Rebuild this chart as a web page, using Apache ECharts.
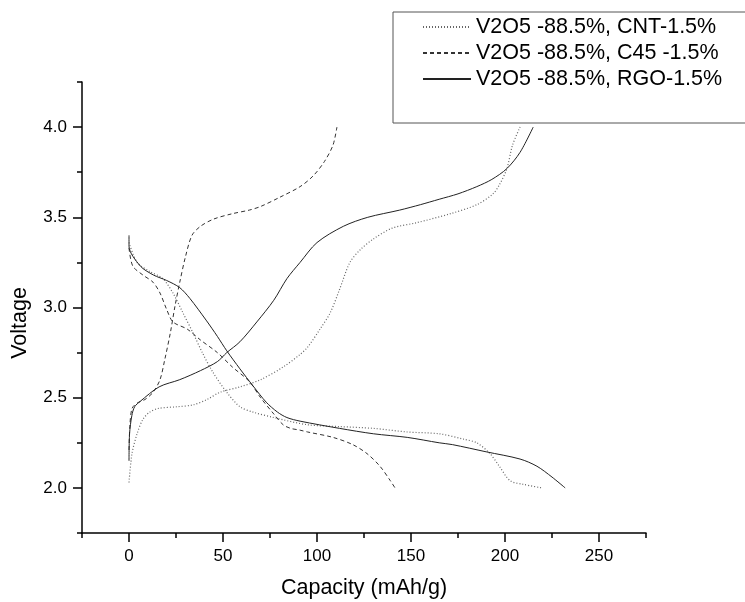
<!DOCTYPE html>
<html>
<head>
<meta charset="utf-8">
<script src="https://cdn.jsdelivr.net/npm/echarts@6/dist/echarts.min.js"></script>
<style>html,body{margin:0;padding:0;background:#fff}#c{width:745px;height:602px}</style>
</head>
<body>
<div id="c"></div>
<script>
var seriesNames = ['V2O5 -88.5%, CNT-1.5%', 'V2O5 -88.5%, C45 -1.5%', 'V2O5 -88.5%, RGO-1.5%'];
var xTickLabels = [0, 50, 100, 150, 200, 250];
var yTickLabels = [2.0, 2.5, 3.0, 3.5, 4.0];

var cntCharge = [[0,2.03],[1.6,2.19],[4.3,2.30],[7.4,2.38],[11,2.42],[15.4,2.44],[25.5,2.45],[34,2.46],[41.5,2.49],[48.4,2.53],[59,2.56],[70,2.6],[82,2.67],[91,2.74],[95,2.78],[101.6,2.88],[107,2.97],[112,3.10],[117.5,3.25],[123,3.32],[130,3.38],[140,3.44],[153,3.47],[171,3.52],[185,3.57],[193.6,3.63],[197,3.68],[201,3.77],[204,3.90],[208,4.0]];
var cntDischarge = [[0,3.36],[4.3,3.25],[11,3.2],[18,3.16],[23.4,3.08],[28.7,2.97],[34,2.86],[39,2.75],[44.7,2.64],[52,2.53],[59,2.45],[66,2.42],[77,2.39],[95,2.35],[112,2.34],[130,2.33],[148,2.31],[165,2.30],[178,2.27],[185,2.25],[192,2.19],[197,2.12],[202.7,2.04],[209.6,2.02],[219.7,2.0]];
var c45Charge = [[0,2.21],[0.5,2.35],[1.6,2.44],[4.3,2.47],[8.5,2.49],[12.8,2.53],[16.5,2.6],[19,2.71],[22,2.86],[24.5,3.01],[27,3.14],[30,3.28],[33.5,3.40],[38,3.45],[45,3.49],[55,3.52],[64,3.54],[70,3.56],[80,3.61],[91,3.67],[98,3.73],[104,3.81],[108.5,3.9],[110.6,4.0]];
var c45Discharge = [[0,3.33],[2,3.23],[7.4,3.18],[12.8,3.14],[16.5,3.08],[20,2.99],[23.4,2.92],[31,2.88],[38,2.82],[47,2.75],[55,2.67],[64,2.59],[70,2.5],[77,2.41],[82,2.35],[86,2.33],[91,2.32],[95,2.31],[108.5,2.28],[119,2.24],[126.6,2.19],[133.5,2.12],[139,2.04],[141.5,2.0]];
var rgoCharge = [[0,2.15],[0.3,2.3],[1.5,2.4],[3,2.45],[6,2.48],[16,2.56],[27,2.6],[38,2.65],[47,2.7],[52,2.75],[59,2.81],[68,2.92],[77,3.04],[84,3.16],[91,3.25],[100,3.36],[114,3.45],[127,3.5],[144,3.54],[155,3.57],[165,3.60],[175,3.63],[185,3.67],[193,3.71],[201,3.77],[208,3.86],[215,4.0]];
var rgoDischarge = [[0,3.40],[0,3.34],[6,3.23],[13,3.18],[20,3.15],[27,3.11],[32.4,3.05],[41,2.93],[47,2.84],[52,2.76],[59,2.66],[66,2.565],[73,2.475],[79,2.42],[84,2.39],[91,2.37],[112,2.33],[130,2.30],[148,2.28],[165,2.25],[172,2.24],[190,2.20],[208,2.16],[217,2.12],[225,2.06],[232,2.0]];

var styles = [
  {color:'#666', type:[1,2], width:1.2},
  {color:'#333', type:[4,3], width:1},
  {color:'#222', type:'solid', width:1}
];
function mk(name, data, st) {
  return {type:'line', name:name, data:data, showSymbol:false, symbol:'none', smooth:0.3,
    lineStyle:{color:st.color, type:st.type, width:st.width}, itemStyle:{color:st.color}, z:3};
}
var FONT = 'Liberation Sans, Arial, sans-serif';
var chart = echarts.init(document.getElementById('c'), null, {renderer:'canvas'});
chart.setOption({
  animation:false,
  backgroundColor:'#fff',
  grid:{left:82, right:99, top:82, bottom:69, containLabel:false, outerBoundsMode:'none'},
  graphic:[{type:'rect', shape:{x:393, y:12, width:400, height:111}, style:{fill:'#fff', stroke:'#555', lineWidth:1}, z:10}],
  legend:{orient:'vertical', left:422, top:16, padding:0, itemWidth:48, itemHeight:14, itemGap:4, z:20,
    itemStyle:{opacity:0},
    data:seriesNames, textStyle:{fontFamily:FONT, fontSize:21.5, lineHeight:21, color:'#000'}},
  xAxis:{type:'value', min:-25, max:275, interval:50,
    name:'Capacity (mAh/g)', nameLocation:'middle', nameGap:44,
    nameTextStyle:{fontFamily:FONT, fontSize:21.5, color:'#000'},
    axisLine:{show:true, onZero:false, lineStyle:{color:'#000', width:1.5}},
    axisTick:{show:true, inside:false, length:5, lineStyle:{color:'#000', width:1.5}},
    minorTick:{show:true, splitNumber:2, length:9, lineStyle:{color:'#000', width:1.5}},
    axisLabel:{show:true, margin:15, fontFamily:FONT, fontSize:17, color:'#000', customValues:xTickLabels},
    splitLine:{show:false}, minorSplitLine:{show:false}},
  yAxis:{type:'value', min:1.75, max:4.25, interval:0.5,
    name:'Voltage', nameLocation:'middle', nameGap:51, nameRotate:90,
    nameTextStyle:{fontFamily:FONT, fontSize:21.5, color:'#000', padding:[0,31,0,0]},
    axisLine:{show:true, onZero:false, lineStyle:{color:'#000', width:1.5}},
    axisTick:{show:true, length:5, lineStyle:{color:'#000', width:1.5}},
    minorTick:{show:true, splitNumber:2, length:9, lineStyle:{color:'#000', width:1.5}},
    axisLabel:{show:true, margin:15, fontFamily:FONT, fontSize:17, color:'#000', customValues:yTickLabels,
      formatter:function(v){return v.toFixed(1);}},
    splitLine:{show:false}, minorSplitLine:{show:false}},
  series:[
    mk(seriesNames[0], cntCharge, styles[0]),
    mk(seriesNames[0], cntDischarge, styles[0]),
    mk(seriesNames[1], c45Charge, styles[1]),
    mk(seriesNames[1], c45Discharge, styles[1]),
    mk(seriesNames[2], rgoCharge, styles[2]),
    mk(seriesNames[2], rgoDischarge, styles[2])
  ]
});
</script>
</body>
</html>
